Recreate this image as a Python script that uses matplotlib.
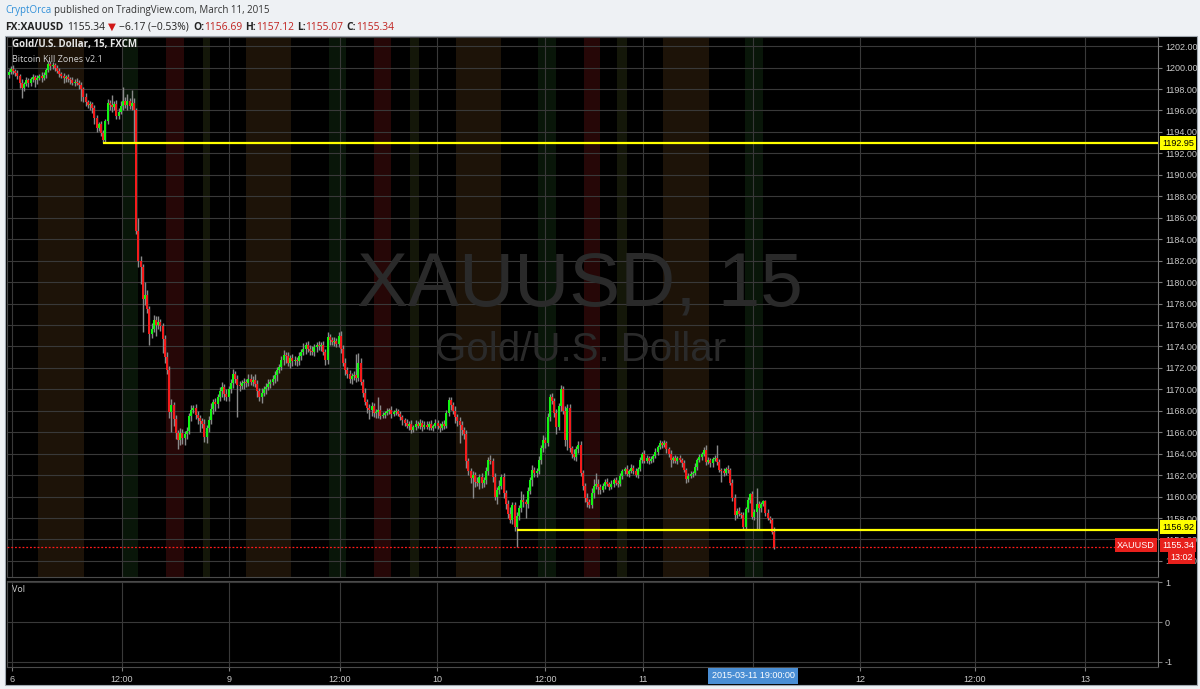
import matplotlib.pyplot as plt
import numpy as np
from matplotlib.patches import Rectangle

# 15-minute candles, FX:XAUUSD (closes; opens follow the previous close)
open_first = 1199.3
closes = [
    1199.6, 1199.9, 1199.7, 1199.5, 1199.2, 1198.6, 1198.1, 1198.5, 1198.8, 1198.6,
    1198.9, 1199.1, 1198.8, 1199.0, 1199.2, 1199.0, 1199.3, 1199.8, 1200.3, 1200.1,
    1200.2, 1200.0, 1199.7, 1199.4, 1199.2, 1199.0, 1199.1, 1198.9, 1198.8, 1198.6,
    1198.7, 1198.6, 1198.4, 1198.0, 1197.3, 1196.8, 1196.5, 1196.6, 1196.2, 1195.3,
    1194.4, 1194.7, 1193.9, 1193.2, 1195.0, 1196.7, 1196.5, 1196.3, 1196.6, 1195.5,
    1195.9, 1196.4, 1196.9, 1196.5, 1196.9, 1196.4, 1196.7, 1196.0, 1184.8, 1182.0,
    1181.4, 1178.4, 1178.8, 1177.5, 1175.2, 1175.6, 1176.5, 1176.0, 1176.3, 1175.9,
    1174.7, 1173.0, 1171.8, 1167.9, 1168.5, 1167.2, 1165.9, 1165.3, 1165.9, 1165.5,
    1165.8, 1166.1, 1167.5, 1168.1, 1168.3, 1167.6, 1167.3, 1167.0, 1166.8, 1165.6,
    1166.4, 1167.1, 1168.2, 1168.8, 1168.6, 1169.3, 1169.8, 1170.2, 1169.6, 1169.3,
    1170.0, 1170.6, 1171.4, 1171.0, 1170.4, 1170.3, 1170.6, 1170.7, 1170.6, 1171.0,
    1170.7, 1170.9, 1170.5, 1169.8, 1169.3, 1169.7, 1170.0, 1170.2, 1170.5, 1170.7,
    1171.0, 1171.3, 1171.8, 1172.1, 1172.7, 1173.2, 1173.1, 1172.5, 1172.9, 1172.6,
    1172.7, 1172.6, 1173.1, 1173.5, 1173.8, 1174.1, 1173.8, 1173.6, 1173.5, 1173.9,
    1174.1, 1174.0, 1174.1, 1173.5, 1172.7, 1174.9, 1174.6, 1174.4, 1174.5, 1174.2,
    1175.0, 1173.8, 1172.5, 1171.8, 1171.4, 1171.0, 1171.2, 1171.3, 1171.1, 1172.5,
    1170.7, 1169.7, 1168.8, 1168.3, 1168.1, 1168.4, 1167.8, 1167.9, 1168.1, 1167.5,
    1167.6, 1167.8, 1168.0, 1168.1, 1167.7, 1167.9, 1168.0, 1167.7, 1167.4, 1167.1,
    1166.9, 1166.6, 1166.8, 1166.2, 1166.5, 1166.8, 1166.6, 1166.9, 1166.5, 1166.7,
    1166.5, 1166.8, 1166.4, 1166.6, 1166.9, 1166.6, 1166.4, 1166.8, 1166.6, 1167.8,
    1169.0, 1168.5, 1168.0, 1167.4, 1167.0, 1166.7, 1166.2, 1165.8, 1163.3, 1162.4,
    1161.7, 1162.0, 1161.4, 1161.3, 1161.8, 1161.3, 1161.5, 1162.4, 1163.4, 1163.3,
    1161.8, 1160.0, 1160.6, 1161.0, 1161.8, 1160.3, 1159.3, 1158.4, 1157.8, 1159.2,
    1157.2, 1158.2, 1158.9, 1159.7, 1159.5, 1159.3, 1160.5, 1161.5, 1162.5, 1162.2,
    1162.4, 1163.4, 1164.5, 1165.3, 1165.0, 1167.4, 1169.3, 1168.9, 1167.8, 1166.5,
    1168.4, 1170.0, 1168.0, 1165.3, 1168.3, 1164.5, 1164.0, 1163.7, 1164.4, 1164.8,
    1162.2, 1161.0, 1159.9, 1159.5, 1159.2, 1160.3, 1161.0, 1161.2, 1160.9, 1160.6,
    1161.0, 1161.4, 1161.2, 1160.9, 1161.2, 1161.5, 1161.3, 1161.2, 1161.9, 1162.4,
    1162.6, 1162.1, 1162.4, 1162.7, 1162.4, 1162.0, 1162.6, 1163.4, 1164.0, 1163.3,
    1163.6, 1163.3, 1163.5, 1163.8, 1164.2, 1164.6, 1165.0, 1164.8, 1165.0, 1164.4,
    1164.0, 1163.4, 1163.6, 1163.3, 1163.6, 1163.4, 1163.1, 1162.5, 1161.6, 1161.9,
    1162.1, 1162.2, 1162.8, 1163.4, 1163.7, 1164.0, 1164.3, 1163.2, 1163.4, 1163.1,
    1163.5, 1163.6, 1163.2, 1162.5, 1162.4, 1162.2, 1162.6, 1162.5, 1161.3, 1159.9,
    1158.3, 1158.7, 1158.4, 1158.3, 1157.2, 1158.8, 1159.7, 1160.2, 1158.1, 1158.6,
    1159.3, 1158.9, 1159.3, 1159.6, 1158.5, 1158.0, 1157.8, 1156.69, 1155.34,
]
# upper / lower wick lengths of each candle
wick_up = [
    0.3, 0.2, 0.3, 0.2, 0.3, 0.2, 0.3, 0.2, 0.3, 0.2,
    0.2, 0.3, 0.2, 0.3, 0.2, 0.4, 0.3, 0.2, 0.3, 0.3,
    0.3, 0.2, 0.2, 0.3, 0.2, 0.3, 0.2, 0.3, 0.2, 0.3,
    0.2, 0.3, 0.2, 0.3, 0.2, 0.3, 0.2, 0.3, 0.2, 0.3,
    0.3, 0.2, 0.3, 0.3, 0.2, 0.4, 0.3, 0.9, 0.3, 0.4,
    0.3, 0.5, 1.3, 0.4, 0.6, 0.3, 1.2, 0.5, 0.2, 1.2,
    0.4, 0.3, 1.2, 0.5, 0.3, 0.6, 0.4, 0.3, 0.5, 0.3,
    0.3, 0.4, 0.5, 0.4, 0.6, 0.3, 0.4, 0.3, 0.5, 0.4,
    0.3, 0.4, 0.3, 0.4, 0.2, 0.3, 0.4, 0.3, 0.3, 0.4,
    0.3, 0.4, 0.5, 0.3, 0.4, 0.3, 0.4, 0.5, 0.3, 0.4,
    0.3, 0.4, 0.5, 0.3, 0.3, 0.4, 0.3, 0.4, 0.3, 0.4,
    0.4, 0.3, 0.5, 0.4, 0.3, 0.4, 0.3, 0.4, 0.5, 0.3,
    0.3, 0.4, 0.3, 0.3, 0.4, 0.5, 0.3, 0.4, 0.3, 0.4,
    0.4, 0.3, 0.4, 0.3, 0.5, 0.3, 0.4, 0.3, 0.4, 0.3,
    0.3, 0.4, 0.3, 0.4, 0.3, 0.4, 0.3, 0.3, 0.4, 0.3,
    0.3, 0.4, 0.3, 0.4, 0.3, 0.4, 0.3, 0.4, 2.0, 0.9,
    0.4, 0.3, 0.4, 0.3, 0.3, 0.4, 0.3, 0.3, 1.2, 0.4,
    0.3, 0.2, 0.3, 0.2, 0.3, 0.2, 0.3, 0.2, 0.3, 0.2,
    0.2, 0.3, 0.2, 0.3, 0.2, 0.3, 0.2, 0.3, 0.2, 0.3,
    0.3, 0.2, 0.3, 0.2, 0.3, 0.2, 0.3, 0.2, 0.3, 0.3,
    0.3, 0.3, 0.3, 0.4, 0.3, 0.4, 0.3, 0.3, 0.4, 0.3,
    0.3, 0.4, 0.3, 0.4, 0.3, 0.4, 0.3, 0.4, 0.3, 0.5,
    0.3, 0.4, 0.3, 0.5, 0.3, 0.4, 0.3, 0.4, 0.6, 0.3,
    0.3, 0.4, 0.3, 0.8, 0.5, 0.3, 0.4, 0.3, 0.4, 0.3,
    0.3, 0.4, 0.3, 0.4, 0.3, 0.4, 0.3, 0.4, 0.3, 0.4,
    0.3, 0.4, 0.3, 0.4, 0.3, 0.3, 0.2, 0.4, 0.3, 0.4,
    0.4, 0.3, 0.3, 0.4, 0.3, 0.5, 0.6, 1.0, 0.4, 0.3,
    0.3, 0.2, 0.3, 0.2, 0.3, 0.2, 0.3, 0.2, 0.3, 0.2,
    0.2, 0.3, 0.2, 0.3, 0.2, 0.3, 0.2, 0.3, 0.2, 0.3,
    0.3, 0.2, 0.3, 0.2, 0.3, 0.2, 0.3, 0.2, 0.3, 0.2,
    0.2, 0.3, 0.2, 0.3, 0.2, 0.3, 0.2, 0.3, 0.2, 0.3,
    0.3, 0.2, 0.3, 0.2, 0.3, 0.2, 0.3, 0.5, 0.3, 0.2,
    0.2, 0.3, 1.2, 0.3, 0.2, 0.3, 0.2, 0.3, 0.2, 0.3,
    0.3, 0.2, 0.3, 0.2, 0.3, 0.2, 0.3, 0.1, 0.3, 0.2,
    1.5, 0.3, 0.2, 0.1, 0.1, 0.3, 0.2, 0.2, 0.43,
]
wick_dn = [
    0.3, 0.2, 0.3, 0.3, 0.3, 0.5, 0.9, 0.3, 0.2, 0.4,
    0.3, 0.2, 0.6, 0.3, 0.2, 0.3, 0.2, 0.3, 0.2, 0.3,
    0.2, 0.3, 0.2, 0.3, 0.2, 0.4, 0.3, 0.2, 0.3, 0.2,
    0.3, 0.2, 0.4, 1.1, 0.5, 0.4, 0.3, 0.5, 0.4, 0.6,
    0.4, 0.3, 0.3, 0.25, 0.2, 0.3, 0.5, 0.4, 0.3, 0.3,
    0.3, 0.2, 0.4, 0.3, 0.5, 0.3, 0.4, 2.9, 0.3, 0.6,
    1.6, 3.1, 0.5, 0.4, 1.1, 0.4, 0.3, 1.0, 0.4, 0.5,
    1.3, 0.5, 0.4, 0.6, 1.9, 0.6, 0.5, 0.9, 0.5, 0.6,
    0.7, 0.4, 0.3, 0.5, 0.3, 0.4, 0.5, 1.0, 0.4, 0.5,
    0.6, 0.4, 0.3, 0.5, 0.6, 0.3, 0.4, 0.5, 0.6, 0.4,
    0.4, 0.3, 0.5, 0.4, 3.0, 0.5, 0.3, 0.6, 0.4, 0.3,
    0.3, 0.4, 0.3, 0.5, 0.4, 0.6, 0.3, 0.4, 0.3, 0.4,
    0.3, 0.4, 0.5, 0.3, 0.3, 0.4, 0.6, 0.3, 0.5, 0.4,
    0.3, 0.4, 0.3, 0.4, 0.3, 0.5, 0.3, 0.4, 0.3, 0.4,
    0.4, 0.3, 0.4, 0.3, 0.4, 0.3, 0.5, 0.3, 0.4, 0.3,
    0.3, 0.4, 0.3, 0.5, 0.3, 0.4, 0.5, 0.3, 0.4, 0.3,
    0.3, 0.4, 0.3, 0.5, 0.9, 0.6, 0.4, 0.5, 0.6, 0.3,
    0.2, 0.3, 0.2, 0.3, 0.4, 0.2, 0.3, 0.2, 0.3, 0.4,
    0.3, 0.2, 0.4, 0.3, 0.2, 0.3, 0.2, 0.3, 0.4, 0.2,
    0.2, 0.3, 0.2, 0.3, 0.2, 0.3, 0.4, 0.2, 0.3, 0.2,
    0.3, 0.4, 0.3, 0.5, 0.4, 1.7, 0.5, 0.4, 0.6, 0.4,
    0.4, 1.8, 0.5, 0.3, 0.6, 0.5, 0.4, 0.3, 0.4, 0.3,
    0.4, 0.3, 0.7, 0.4, 0.3, 0.4, 0.5, 0.4, 0.3, 0.4,
    0.4, 1.9, 0.4, 0.3, 0.5, 1.3, 0.4, 0.3, 0.5, 0.4,
    0.4, 0.3, 0.4, 0.3, 0.5, 0.3, 0.4, 0.3, 0.4, 0.7,
    0.3, 0.4, 0.3, 0.6, 1.0, 0.3, 0.4, 0.3, 0.4, 0.3,
    0.3, 0.4, 0.4, 0.5, 0.3, 0.3, 0.4, 0.3, 0.7, 0.4,
    0.2, 0.3, 0.2, 0.3, 0.2, 0.3, 0.2, 0.3, 0.2, 0.3,
    0.3, 0.2, 0.3, 0.2, 0.3, 0.2, 0.3, 0.2, 0.3, 0.2,
    0.2, 0.3, 0.2, 0.3, 0.2, 0.3, 0.2, 0.3, 0.2, 0.3,
    0.3, 0.6, 0.3, 0.2, 0.3, 0.2, 0.3, 0.2, 0.3, 0.2,
    0.2, 0.3, 0.2, 0.3, 0.2, 0.3, 0.2, 0.3, 0.2, 0.3,
    0.3, 0.2, 0.3, 0.2, 1.0, 0.3, 0.2, 0.3, 0.2, 0.3,
    0.5, 0.3, 0.2, 0.3, 0.2, 0.3, 0.2, 0.3, 0.2, 0.3,
    1.7, 2.0, 0.3, 0.2, 0.3, 0.2, 0.3, 0.2, 0.27,
]

# kill zone sessions (in bar units), per kind
zones_asia = [(13.4, 34.3), (108.0, 128.4), (203.4, 223.9), (297.5, 318.4)]
zones_green = [(51.6, 58.9), (145.7, 153.4), (240.7, 248.9), (334.8, 343.0)]
zones_red = [(71.6, 79.8), (166.1, 173.9), (261.6, 269.0)]
zones_olive = [(88.4, 91.6), (182.5, 186.6), (276.6, 281.1)]

# horizontal levels
level_hi, level_hi_from = 1192.95, 43
level_lo, level_lo_from = 1156.92, 231
last_price = 1155.34

time_ticks = [1.6, 51.6, 100.2, 150.7, 194.8, 243.9, 288.4, 338.4, 387.0, 439.3, 489.3]
time_labels = ['6', '12:00', '9', '12:00', '10', '12:00', '11', '', '12', '12:00', '13']
price_ticks = np.arange(1154, 1203, 2)

W, H = 1200, 689
fig = plt.figure(figsize=(12, 6.89), dpi=100, facecolor='#eef1f4')


def fx(px):
    return px / W


def fy(py):
    return 1 - py / H


fig.patches.append(Rectangle((fx(5), fy(685)), fx(1197) - fx(5), fy(36) - fy(685),
                             transform=fig.transFigure, facecolor='black',
                             edgecolor='#a0a8b0', lw=0.8, zorder=-5))

ax = fig.add_axes([fx(7), fy(577), fx(1158) - fx(7), fy(37) - fy(577)])
axv = fig.add_axes([fx(7), fy(667), fx(1158) - fx(7), fy(581) - fy(667)], sharex=ax)
for a in (ax, axv):
    a.set_facecolor('black')
    for s in a.spines.values():
        s.set_color('#4a4a4a')
        s.set_linewidth(0.8)
    a.spines['right'].set_color('#777777')

grid_c = '#393939'
x = np.arange(len(closes))
c = np.array(closes)
o = np.concatenate([[open_first], c[:-1]])
hi = np.maximum(o, c) + np.array(wick_up)
lo = np.minimum(o, c) - np.array(wick_dn)
up = c >= o

# kill zones
for zl, col in ((zones_asia, '#1d1308'), (zones_green, '#091609'),
                (zones_red, '#260707'), (zones_olive, '#141709')):
    for a0, a1 in zl:
        ax.axvspan(a0, a1, color=col, lw=0, zorder=0)

ax.set_xlim(-0.7, 522.5)
ax.set_ylim(1152.5, 1202.85)
axv.set_ylim(-1.13, 1.03)

for t in time_ticks:
    ax.axvline(t, color=grid_c, lw=0.8, zorder=1)
    axv.axvline(t, color=grid_c, lw=0.8, zorder=1)
for p in price_ticks:
    ax.axhline(p, color=grid_c, lw=0.8, zorder=1)
for p in (1, 0, -1):
    axv.axhline(p, color=grid_c, lw=0.8, zorder=1)

# watermark
ax.text(0.498, 0.538, 'XAUUSD, 15', transform=ax.transAxes, ha='center', va='center',
        fontsize=55, color='#2a2a2a', family='Liberation Sans', zorder=1.5)
ax.text(0.498, 0.42, 'Gold/U.S. Dollar', transform=ax.transAxes, ha='center', va='center',
        fontsize=29, color='#2a2a2a', family='Liberation Sans', zorder=1.5)

# candles
ax.vlines(x, lo, hi, color='#8a8a8a', lw=1.0, zorder=2)
body = np.maximum(np.abs(c - o), 0.08)
ax.bar(x, body, bottom=np.minimum(o, c), width=0.92,
       color=np.where(up, '#12f512', '#f41c1c'), linewidth=0, zorder=3)

# levels
ax.hlines(level_hi, level_hi_from, 522.5, color='#ffff00', lw=1.6, zorder=4)
ax.hlines(level_lo, level_lo_from, 522.5, color='#ffff00', lw=1.6, zorder=4)
ax.axhline(last_price, color='#ff1a1a', lw=0.9, ls=(0, (1.5, 1.5)), zorder=4)

# price axis
ax.yaxis.tick_right()
ax.set_yticks(price_ticks)
ax.set_yticklabels(['%.2f' % p for p in price_ticks])
ax.tick_params(axis='y', colors='#7a7a7a', labelcolor='#c8c8c8', labelsize=6.5,
               length=3, pad=2)
ax.tick_params(axis='x', bottom=False, labelbottom=False)
for lab in ax.get_yticklabels():
    lab.set_family('Liberation Sans')

axv.yaxis.tick_right()
axv.set_yticks([1, 0, -1])
axv.set_yticklabels(['1', '0', '-1'])
axv.tick_params(axis='y', colors='#7a7a7a', labelcolor='#c8c8c8', labelsize=6.5,
                length=3, pad=2)
axv.set_xticks(time_ticks)
axv.set_xticklabels(time_labels)
axv.tick_params(axis='x', colors='#7a7a7a', labelcolor='#c8c8c8', labelsize=6.5,
                length=3, pad=3)
for lab in axv.get_xticklabels() + axv.get_yticklabels():
    lab.set_family('Liberation Sans')

# pane captions
fig.text(fx(12), fy(45), 'Gold/U.S. Dollar, 15, FXCM', fontsize=7, color='#e6e6e6',
         weight='bold', family='Open Sans', va='center')
fig.text(fx(12), fy(60), 'Bitcoin Kill Zones v2.1', fontsize=6.5, color='#d0d0d0',
         family='Open Sans', va='center')
fig.text(fx(12), fy(589), 'Vol', fontsize=6.5, color='#d0d0d0', family='Open Sans',
         va='center')


# right-hand labels
def tag(px, py, s, bg, fg, ha='left'):
    fig.text(fx(px), fy(py), s, fontsize=6.5, color=fg, family='Liberation Sans',
             ha=ha, va='center', zorder=10,
             bbox=dict(boxstyle='square,pad=0.25', fc=bg, ec='none'))


tag(1162, 143, '%.2f' % level_hi, '#ffff00', 'black')
tag(1162, 527, '%.2f' % level_lo, '#ffff00', 'black')
tag(1162, 545, '%.2f' % last_price, '#e8201c', 'white')
tag(1155, 545, 'XAUUSD', '#e8201c', 'white', ha='right')
tag(1170, 557, '13:02', '#e8201c', 'white')
fig.text(fx(753), fy(676), '2015-03-11 19:00:00', fontsize=6.5, color='white',
         family='Liberation Sans', ha='center', va='center', zorder=10,
         bbox=dict(boxstyle='square,pad=0.35', fc='#4a8ed4', ec='none'))

# header lines, laid out piece by piece
renderer = fig.canvas.get_renderer()


def chain(py, parts, x0=5, size=7):
    px = x0
    for s, col, wt, gap in parts:
        t = fig.text(fx(px), fy(py), s, fontsize=size, color=col, weight=wt,
                     family=['Open Sans', 'DejaVu Sans'], va='center')
        px = t.get_window_extent(renderer).x1 + gap


red = '#c0221f'
dark = '#222222'
chain(11, [('CryptOrca', '#2f8fd8', 'normal', 3),
           ('published on TradingView.com, March 11, 2015', '#333333', 'normal', 0)], size=7)
chain(27, [('FX:XAUUSD', dark, 'bold', 4), ('1155.34', dark, 'normal', 3),
           ('\u25bc', '#d01818', 'normal', 3), ('\u22126.17 (\u22120.53%)', dark, 'normal', 4),
           ('O:', dark, 'bold', 0), ('1156.69', red, 'normal', 3),
           ('H:', dark, 'bold', 0), ('1157.12', red, 'normal', 3),
           ('L:', dark, 'bold', 0), ('1155.07', red, 'normal', 3),
           ('C:', dark, 'bold', 0), ('1155.34', red, 'normal', 0)], size=7.4)

fig.savefig('out.png', dpi=100, facecolor=fig.get_facecolor())
